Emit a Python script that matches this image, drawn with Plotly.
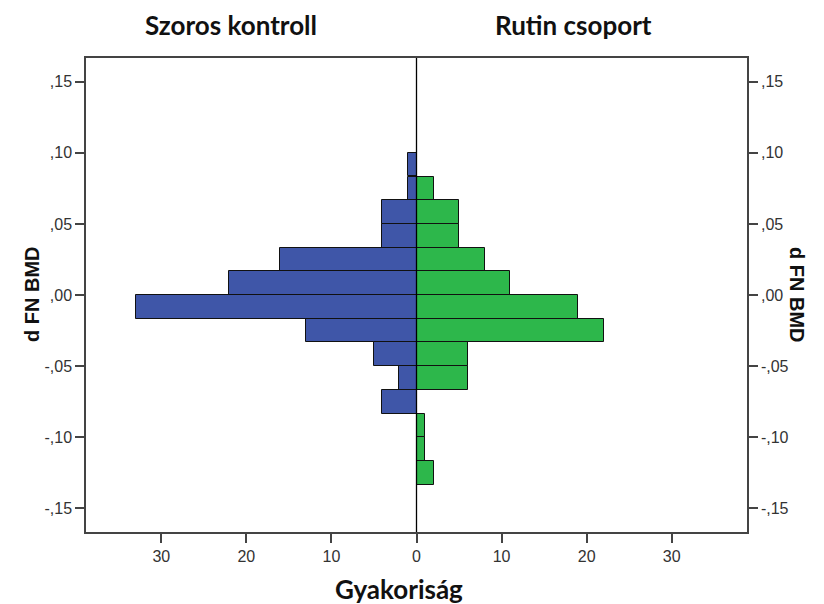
import plotly.graph_objects as go

# Histogram of the change in femoral-neck BMD, split by study group
bin_width = 1 / 60
bin_mid = [0.0917, 0.0750, 0.0583, 0.0417, 0.0250, 0.0083, -0.0083,
           -0.0250, -0.0417, -0.0583, -0.0750, -0.0917, -0.1083, -0.1250]
szoros_counts = [1, 1, 4, 4, 16, 22, 33, 13, 5, 2, 4, 0, 0, 0]
rutin_counts = [0, 2, 5, 5, 8, 11, 19, 22, 6, 6, 0, 1, 1, 2]

x_tick_vals = [-30, -20, -10, 0, 10, 20, 30]
x_tick_text = ["30", "20", "10", "0", "10", "20", "30"]
y_tick_vals = [0.15, 0.10, 0.05, 0.0, -0.05, -0.10, -0.15]
y_tick_text = [",15", ",10", ",05", ",00", "-,05", "-,10", "-,15"]

x_lim = 38.85
y_lim = 1 / 6

blue = "#3F56A8"
green = "#2DB74B"
tick_font = dict(family="Liberation Sans, Arial, sans-serif", size=16, color="#333333")
title_font = dict(family="Lato, sans-serif", size=26, color="#111111")
side_font = dict(family="Liberation Sans, Arial", size=20, color="#111111")

fig = go.Figure()
fig.add_trace(go.Bar(
    y=bin_mid, x=[-c for c in szoros_counts], orientation="h", width=bin_width,
    marker=dict(color=blue, line=dict(color="#111111", width=1)),
    name="Szoros kontroll", showlegend=False,
))
fig.add_trace(go.Bar(
    y=bin_mid, x=rutin_counts, orientation="h", width=bin_width,
    marker=dict(color=green, line=dict(color="#111111", width=1)),
    name="Rutin csoport", showlegend=False,
))
# invisible trace so the right-hand axis is drawn
fig.add_trace(go.Scatter(x=[0], y=[0], yaxis="y2", mode="markers",
                         marker=dict(opacity=0), showlegend=False, hoverinfo="skip"))

axis_common = dict(showgrid=False, zeroline=False, showline=True,
                   linecolor="#444444", linewidth=1.5, ticks="outside",
                   ticklen=9, tickwidth=1.5, tickcolor="#444444", tickfont=tick_font)

fig.update_layout(
    width=824, height=604,
    margin=dict(l=86, r=77, t=58, b=72),
    paper_bgcolor="white", plot_bgcolor="white",
    barmode="relative", bargap=0,
    xaxis=dict(range=[-x_lim, x_lim], tickvals=x_tick_vals, ticktext=x_tick_text,
               mirror=True, **axis_common),
    yaxis=dict(range=[-y_lim, y_lim], tickvals=y_tick_vals, ticktext=y_tick_text,
               **axis_common),
    yaxis2=dict(range=[-y_lim, y_lim], tickvals=y_tick_vals, ticktext=y_tick_text,
                overlaying="y", side="right", **axis_common),
    shapes=[dict(type="line", xref="x", yref="paper", x0=0, x1=0, y0=0, y1=1,
                 line=dict(color="#000000", width=1.3))],
    annotations=[
        dict(text="<b>Szoros kontroll</b>", x=-21.8, xref="x", y=25, yref="paper",
             yanchor="middle", showarrow=False, font=title_font),
        dict(text="<b>Rutin csoport</b>", x=18.5, xref="x", y=25, yref="paper",
             yanchor="middle", showarrow=False, font=title_font),
        dict(text="<b>Gyakoriság</b>", x=-2, xref="x", y=589, yref="paper",
             yanchor="middle", showarrow=False, font=title_font),
        dict(text="<b>d FN BMD</b>", x=19, xref="paper", y=294, yref="paper",
             textangle=-90, showarrow=False, font=side_font),
        dict(text="<b>d FN BMD</b>", x=810, xref="paper", y=295, yref="paper",
             textangle=90, showarrow=False, font=side_font),
    ],
)

# annotation positions above are in pixels; convert them to paper fractions
plot_w = 824 - 86 - 77
plot_h = 604 - 58 - 72
for ann in fig.layout.annotations:
    if ann.xref == "paper":
        ann.x = (ann.x - 86) / plot_w
    if ann.yref == "paper":
        ann.y = (604 - 72 - ann.y) / plot_h

fig.write_html("out.html")
